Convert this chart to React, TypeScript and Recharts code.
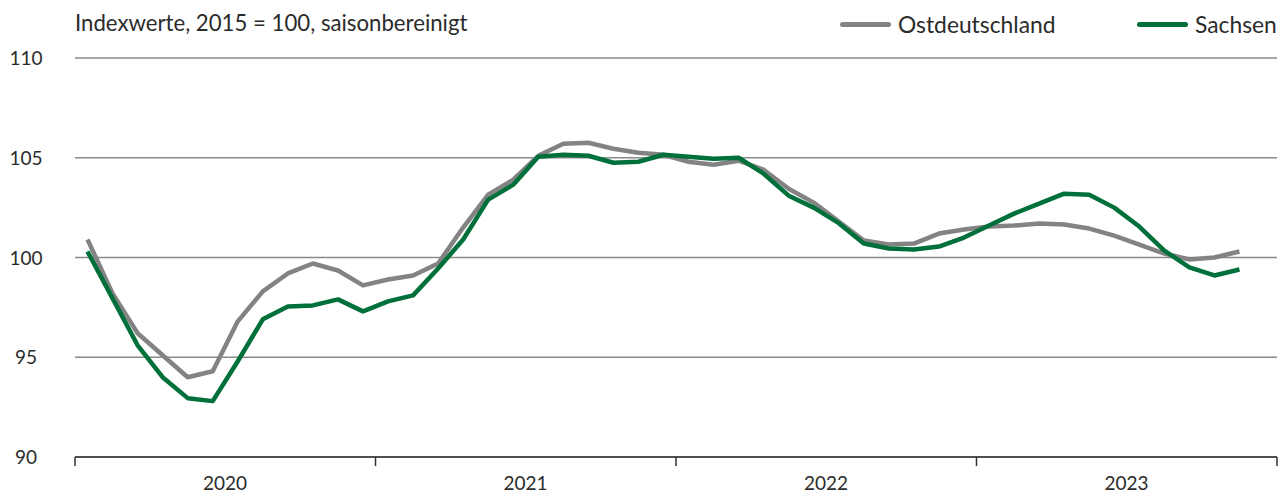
import React from 'react';
import { LineChart, Line, XAxis, YAxis, CartesianGrid } from 'recharts';

const years = ['2020', '2021', '2022', '2023'];

const ostdeutschland = [
  100.9, 98.2, 96.2, 95.1, 94.0, 94.3, 96.8, 98.3, 99.2, 99.7, 99.35, 98.6,
  98.9, 99.1, 99.7, 101.5, 103.15, 103.9, 105.1, 105.7, 105.75, 105.45, 105.25, 105.15,
  104.8, 104.65, 104.85, 104.4, 103.45, 102.75, 101.8, 100.85, 100.65, 100.7, 101.2, 101.4,
  101.55, 101.6, 101.7, 101.65, 101.45, 101.1, 100.65, 100.2, 99.9, 100.0, 100.3,
];

const sachsen = [
  100.3, 97.95, 95.6, 94.0, 92.95, 92.8, 94.8, 96.9, 97.55, 97.6, 97.9, 97.3,
  97.8, 98.1, 99.45, 100.9, 102.9, 103.65, 105.05, 105.15, 105.1, 104.75, 104.8, 105.15,
  105.05, 104.95, 105.0, 104.2, 103.1, 102.5, 101.72, 100.7, 100.45, 100.4, 100.55, 101.0,
  101.6, 102.2, 102.7, 103.2, 103.15, 102.5, 101.55, 100.35, 99.5, 99.1, 99.4,
];

const yTicks = [90, 95, 100, 105, 110];
const yearBounds = [-0.5, 11.5, 23.5, 35.5, 47.5];

const data = sachsen.map((v, i) => ({
  i,
  month: years[Math.floor(i / 12)] + '-' + String((i % 12) + 1).padStart(2, '0'),
  ost: ostdeutschland[i],
  sachsen: v,
}));

const font = '"Source Sans Pro", Lato, "Noto Sans", sans-serif';
const textColor = '#2b2b2b';
const grey = '#838383';
const green = '#00703a';

const YearTick = (props: any) => {
  const { x, y, index } = props;
  const label = years[index];
  return (
    <g>
      <line x1={x} x2={x} y1={y - 8} y2={y + 1} stroke="#333" strokeWidth={1.5} />
      {label && (
        <text x={x + 150} y={y + 25} textAnchor="middle" fill={textColor} fontSize={19} fontFamily={font}>
          {label}
        </text>
      )}
    </g>
  );
};

const ValueTick = (props: any) => {
  const { y, payload } = props;
  return (
    <text x={26} y={y + 7} textAnchor="middle" fill={textColor} fontSize={19} fontFamily={font}>
      {payload.value}
    </text>
  );
};

const LegendItem = ({ color, label, left }: { color: string; label: string; left: number }) => (
  <div style={{ position: 'absolute', left, top: 10, display: 'flex', alignItems: 'center' }}>
    <span style={{ display: 'inline-block', width: 51, height: 5, borderRadius: 3, background: color, marginRight: 7 }} />
    <span style={{ fontSize: 22.8, color: textColor, fontFamily: font }}>{label}</span>
  </div>
);

export default function App() {
  return (
    <div style={{ position: 'absolute', left: 0, top: 0, width: 1287, height: 493, background: '#fff' }}>
      <div style={{ position: 'absolute', left: 75, top: 9, fontSize: 22.2, color: textColor, fontFamily: font }}>
        Indexwerte, 2015 = 100, saisonbereinigt
      </div>
      <LegendItem color={grey} label="Ostdeutschland" left={840} />
      <LegendItem color={green} label="Sachsen" left={1137} />
      <LineChart width={1287} height={493} data={data} margin={{ top: 58, right: 10, bottom: 0, left: 0 }}>
        <CartesianGrid vertical={false} stroke="#8a8a8a" strokeWidth={1.5} />
        <XAxis
          dataKey="i"
          type="number"
          domain={[-0.5, 47.5]}
          ticks={yearBounds}
          interval={0}
          height={36}
          axisLine={{ stroke: '#333', strokeWidth: 1.5 }}
          tickLine={false}
          tick={<YearTick />}
        />
        <YAxis
          domain={[90, 110]}
          ticks={yTicks}
          width={75}
          axisLine={false}
          tickLine={false}
          tick={<ValueTick />}
        />
        <Line dataKey="ost" stroke={grey} strokeWidth={4.5} dot={false} isAnimationActive={false} strokeLinejoin="round" />
        <Line dataKey="sachsen" stroke={green} strokeWidth={4.5} dot={false} isAnimationActive={false} strokeLinejoin="round" />
      </LineChart>
    </div>
  );
}
